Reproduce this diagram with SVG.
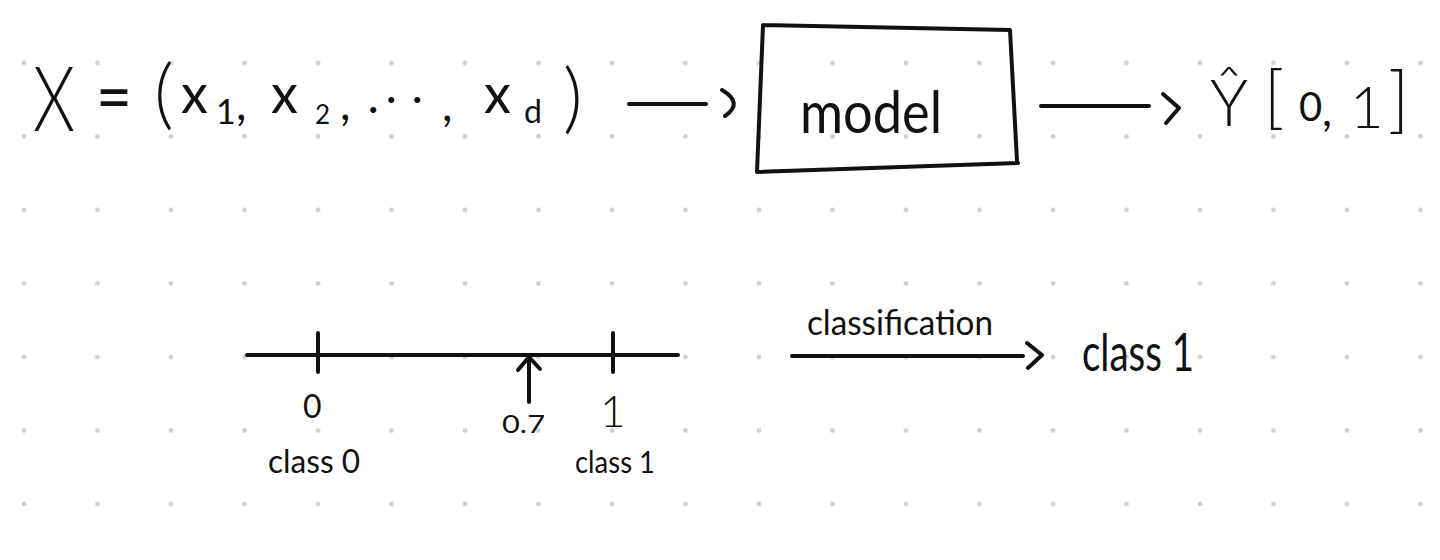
<svg xmlns="http://www.w3.org/2000/svg" width="1440" height="560" viewBox="0 0 1440 560">
  <style>
    .hw { font-family: Lato, "Liberation Sans", sans-serif; font-weight: 400; fill: #111; }
    .lt { font-family: Lato, "Liberation Sans", sans-serif; font-weight: 300; fill: #111; }
    .ln { fill: none; stroke: #111; stroke-width: 4; stroke-linecap: round; stroke-linejoin: round; }
  </style>
  <defs>
    <pattern id="dots" patternUnits="userSpaceOnUse" width="73.5" height="73.5">
      <circle cx="24" cy="63" r="2.4" fill="#cfcfcf"/>
    </pattern>
  </defs>
  <rect width="1440" height="560" fill="#ffffff"/>
  <rect width="1440" height="560" fill="url(#dots)"/>

  <g id="input-X">
    <text class="lt" font-size="90" x="33" y="131" textLength="42" lengthAdjust="spacingAndGlyphs">X</text>
    <text class="hw" font-size="72" x="96" y="122" textLength="36" lengthAdjust="spacingAndGlyphs">=</text>
    <text class="lt" font-size="76" x="154" y="120">(</text>
    <text class="hw" font-size="54">
      <tspan x="181" y="113">x</tspan><tspan x="216" y="124" font-size="34">1</tspan><tspan x="236" y="120" font-size="46">,</tspan><tspan x="271" y="113">x</tspan><tspan x="315" y="124" font-size="26">2</tspan><tspan x="340" y="120" font-size="46">,</tspan><tspan x="368" y="122" font-size="40">·</tspan><tspan x="386" y="112" font-size="40">·</tspan><tspan x="412" y="112" font-size="40">·</tspan><tspan x="442" y="121" font-size="46">,</tspan><tspan x="484" y="113">x</tspan><tspan x="524" y="123" font-size="32">d</tspan>
    </text>
    <text class="lt" font-size="76" x="563" y="124">)</text>
  </g>

  <g id="model">
    <path class="ln" d="M763,25 L1010,30 L1017,161 M1018,163 L757,172 L763,25"/>
    <text class="hw" font-size="58" x="800" y="133" textLength="142" lengthAdjust="spacingAndGlyphs">model</text>
  </g>

  <g id="output-Y">
    <text class="lt" font-size="66" x="1210" y="126" textLength="38" lengthAdjust="spacingAndGlyphs">Ŷ</text>
    <text class="lt" font-size="68" x="1264" y="121">[</text>
    <text class="hw" font-size="40" x="1299" y="121">0</text>
    <text class="hw" font-size="44" x="1322" y="126">,</text>
    <text class="lt" font-size="58" x="1350" y="128">1</text>
    <text class="lt" font-size="72" x="1388" y="124">]</text>
  </g>

  <g id="number-line">
    <path class="ln" d="M247,355 L678,355 M318,333 L318,372 M613,333 L613,372"/>
    <text class="hw" font-size="32" x="303" y="418">0</text>
    <text class="lt" font-size="44" x="600" y="427">1</text>
    <text class="hw" font-size="25" x="502" y="433" textLength="43" lengthAdjust="spacingAndGlyphs">0.7</text>
    <text class="hw" font-size="32" x="268" y="473" textLength="92" lengthAdjust="spacingAndGlyphs">class 0</text>
    <text class="hw" font-size="30" x="575" y="473" textLength="80" lengthAdjust="spacingAndGlyphs">class 1</text>
  </g>

  <g id="result">
    <text class="hw" font-size="35" x="807" y="335" textLength="186" lengthAdjust="spacingAndGlyphs">classification</text>
    <text class="hw" font-size="52" x="1082" y="371" textLength="112" lengthAdjust="spacingAndGlyphs">class 1</text>
  </g>

  <g id="connectors">
    <path class="ln" d="M629,104 L706,104 M722,90 Q744,103 725,116"/>
    <path class="ln" d="M1041,106 L1149,106 M1163,94 L1179,108 L1166,123"/>
    <path class="ln" d="M529,402 L529,358 M518,370 L529,357 L540,369"/>
    <path class="ln" d="M792,356 L1023,356 M1027,343 L1042,355 L1028,368"/>
  </g>
</svg>
